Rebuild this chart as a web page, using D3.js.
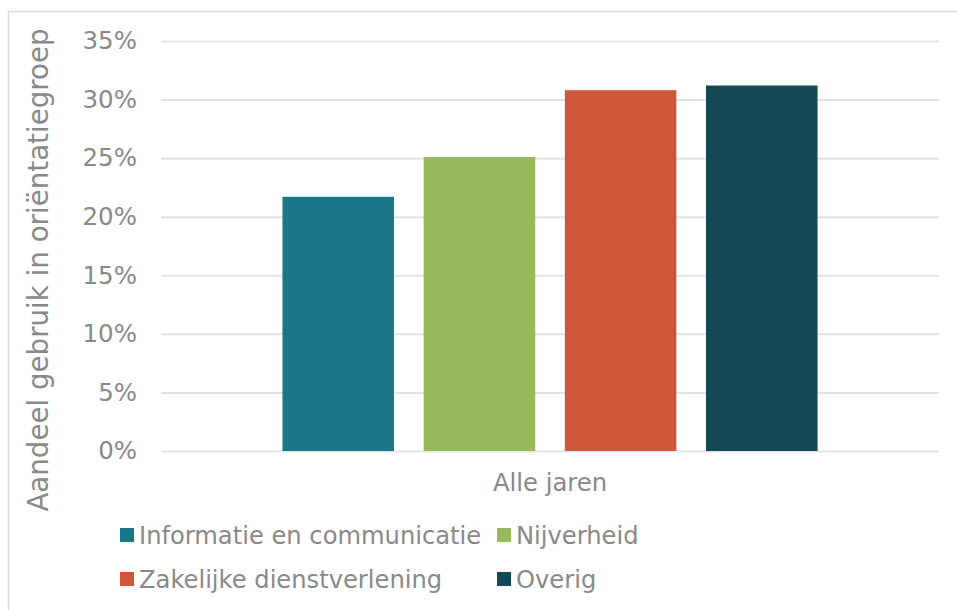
<!DOCTYPE html>
<html>
<head>
<meta charset="utf-8">
<script src="https://cdn.jsdelivr.net/npm/d3@7"></script>
<style>
  body { margin: 0; background: #fff; }
  text { font-family: "DejaVu Sans", Verdana, sans-serif; fill: #898989; }
</style>
</head>
<body>
<svg id="chart" width="957" height="610"></svg>
<script>
// Chart data
const categories = ["Alle jaren"];
const series = ["Informatie en communicatie", "Nijverheid", "Zakelijke dienstverlening", "Overig"];
const values = [0.217, 0.251, 0.308, 0.312];
const colours = ["#1b7688", "#95b95c", "#cf563a", "#134855"];
const yTicks = [0, 0.05, 0.10, 0.15, 0.20, 0.25, 0.30, 0.35];

const svg = d3.select("#chart");

// Outer chart border (only left and top edges are in view)
svg.append("rect")
  .attr("x", 8.5).attr("y", 11.5)
  .attr("width", 960).attr("height", 620)
  .attr("fill", "none")
  .attr("stroke", "#dcdcdc")
  .attr("stroke-width", 1.5);

const plot = { left: 161, right: 939, top: 41, bottom: 451 };

const y = d3.scaleLinear()
  .domain([0, 0.35])
  .range([plot.bottom, plot.top]);

const x0 = d3.scaleBand()
  .domain(categories)
  .range([plot.left, plot.right])
  .paddingInner(0)
  .paddingOuter(0.227);

const x1 = d3.scaleBand()
  .domain(series)
  .range([0, x0.bandwidth()])
  .paddingInner(0.21)
  .paddingOuter(0);

// Gridlines + tick labels via axis
const yAxis = svg.append("g")
  .attr("transform", `translate(${plot.left},0)`)
  .call(d3.axisLeft(y)
    .tickValues(yTicks)
    .tickSize(-(plot.right - plot.left))
    .tickPadding(24)
    .tickFormat(d3.format(".0%")));
yAxis.select(".domain").remove();
yAxis.selectAll(".tick line")
  .attr("stroke", "#e3e3e3")
  .attr("stroke-width", 2);
yAxis.selectAll(".tick text")
  .attr("font-size", 24.5)
  .attr("fill", "#898989")
  .attr("font-family", "DejaVu Sans, Verdana, sans-serif");

// Bars
svg.append("g")
  .selectAll("rect")
  .data(series.map((s, i) => ({ s, v: values[i], c: colours[i], cat: categories[0] })))
  .join("rect")
    .attr("x", d => x0(d.cat) + x1(d.s))
    .attr("y", d => y(d.v))
    .attr("width", x1.bandwidth())
    .attr("height", d => y(0) - y(d.v))
    .attr("fill", d => d.c);

// Category label
svg.append("text")
  .attr("x", x0(categories[0]) + x0.bandwidth() / 2)
  .attr("y", 491)
  .attr("text-anchor", "middle")
  .attr("font-size", 24.3)
  .text(categories[0]);

// Axis title
svg.append("text")
  .attr("transform", "translate(48,270) rotate(-90)")
  .attr("text-anchor", "middle")
  .attr("font-size", 27.7)
  .text("Aandeel gebruik in oriëntatiegroep");

// Legend, 2 columns x 2 rows
const legendX = [120, 497];
const legendY = [535, 579];
const legend = svg.append("g")
  .selectAll("g")
  .data(series)
  .join("g")
    .attr("transform", (d, i) => `translate(${legendX[i % 2]},${legendY[Math.floor(i / 2)]})`);
legend.append("rect")
  .attr("x", 0).attr("y", -7)
  .attr("width", 14).attr("height", 14)
  .attr("fill", (d, i) => colours[i]);
legend.append("text")
  .attr("x", 19)
  .attr("y", 9)
  .attr("font-size", 24.2)
  .text(d => d);
</script>
</body>
</html>
